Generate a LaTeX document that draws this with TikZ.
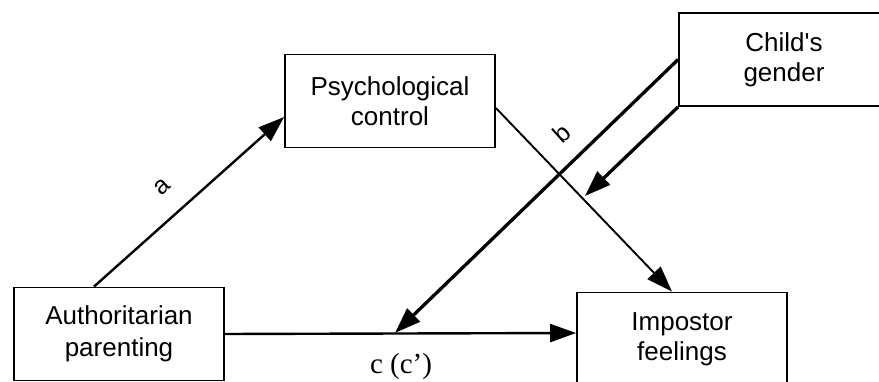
\documentclass[tikz,border=0pt]{standalone}
\usepackage{fontspec}
\setmainfont{Liberation Sans}
\newfontfamily\serifface{Liberation Serif}
\usetikzlibrary{arrows.meta}
\begin{document}
\begin{tikzpicture}[x=1pt,y=-1pt,
  varbox/.style={draw,line width=1.8pt,minimum width=210pt,minimum height=93pt,
    inner sep=0pt,align=center,font=\fontsize{26}{30}\selectfont},
  path/.style={line width=2.4pt,-{Triangle[length=26pt,width=18pt]}},
  lbl/.style={font=\fontsize{25}{30}\selectfont,rotate=42}]
\useasboundingbox (0,0) rectangle (879,382);
% variables
\node[varbox] (auth) at (119,334) {Authoritarian\\[2pt]parenting};
\node[varbox] (psych) at (390,101) {Psychological\\control};
\node[varbox] (gender) at (784,59.5) {Child\textquotesingle s\\gender};
\node[varbox] (imp) at (682,339) {Impostor\\feelings};
% free ends of the moderator arrows
\coordinate (cpath) at (395,333);
\coordinate (bpath) at (585,196);
% paths
\draw[path] ([xshift=-25pt]auth.north) -- ([yshift=-16pt]psych.west);
\draw[path,line width=1.9pt] ([yshift=-7pt]psych.east) -- ([xshift=-10pt]imp.north);
\draw[path] (auth.east) -- ([yshift=6pt]imp.west);
\draw[path,line width=3.3pt] (gender.west) -- (cpath);
\draw[path,line width=3.3pt] (gender.south west) -- (bpath);
% path labels
\node[lbl] (la) at (162,187) {a};
\node[lbl] (lb) at (562,133) {b};
\node[font=\serifface\fontsize{29}{30}\selectfont] (lc) at (401,367) {c (c’)};
\end{tikzpicture}
\end{document}
